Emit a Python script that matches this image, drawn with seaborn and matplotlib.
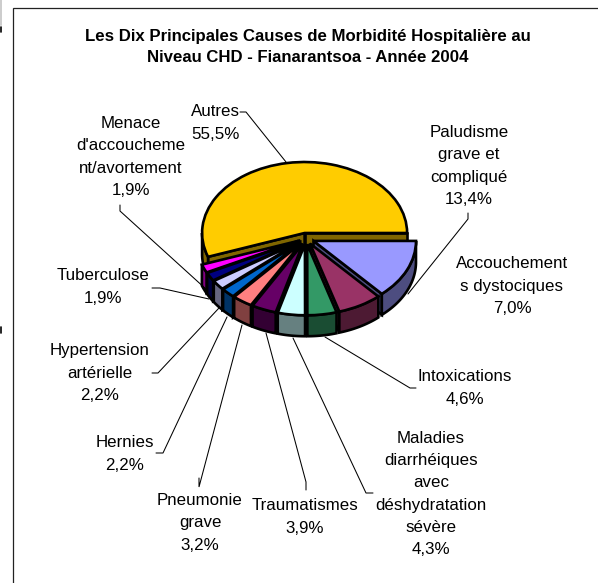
import numpy as np
import matplotlib
matplotlib.use("Agg")
import matplotlib.pyplot as plt
import seaborn as sns

sns.set_theme(style="white")
plt.rcParams['font.family'] = ['Liberation Sans', 'DejaVu Sans']

title = "Les Dix Principales Causes de Morbidité Hospitalière au\nNiveau CHD - Fianarantsoa - Année 2004"
categories = ["Autres", "Menace\nd'accoucheme\nnt/avortement", "Tuberculose",
              "Hypertension\nartérielle", "Hernies", "Pneumonie\ngrave", "Traumatismes",
              "Maladies\ndiarrhéiques\navec\ndéshydratation\nsévère", "Intoxications",
              "Accouchement\ns dystociques", "Paludisme\ngrave et\ncompliqué"]
values = [55.5, 1.9, 1.9, 2.2, 2.2, 3.2, 3.9, 4.3, 4.6, 7.0, 13.4]
value_labels = ["55,5%", "1,9%", "1,9%", "2,2%", "2,2%", "3,2%", "3,9%", "4,3%", "4,6%", "7,0%", "13,4%"]
colors = ["#FFCC00", "#FF00FF", "#000080", "#CCCCFF", "#0066CC", "#FF8080",
          "#660066", "#CCFFFF", "#339966", "#993366", "#9999FF"]

W, H = 598, 583
CX, CY, RX, RY = 306.0, 238.6, 102.5, 71.0   # pie centre / radii in pixels
DEPTH = 21.0 / RY
EXPLODE = 0.08
LW = 1.9

# positions of the labels (centre) in pixels
label_xy = [(215, 123), (131, 157), (103, 287), (100, 373), (125, 454), (200, 523),
            (305, 517), (431, 494), (465, 388), (512, 286), (469, 166)]
leaders = [[(240, 112), (246, 112), (286, 162)],
           [(120, 205), (120, 211), (207, 290)],
           [(152, 288), (160, 288), (209, 299)],
           [(152, 373), (158, 373), (219, 308)],
           [(156, 453), (163, 453), (227, 317)],
           [(199, 478), (199, 487), (242, 325)],
           [(306, 490), (306, 482), (266, 333)],
           [(373, 493), (366, 493), (293, 338)],
           [(416, 388), (410, 388), (325, 337)],
           [],
           [(468, 213), (468, 219), (408, 294)]]
# painter's order: back slice, right side to the front, then left side to the front
draw_order = [0, 10, 9, 8, 1, 2, 3, 4, 5, 6, 7]

fig = plt.figure(figsize=(W / 100, H / 100), dpi=100)
ax = fig.add_axes([0, 0, 1, 1])
palette = sns.color_palette(colors)
wedges, _ = ax.pie(values, colors=palette, startangle=0, counterclock=True,
                   explode=[EXPLODE] * len(values),
                   wedgeprops=dict(edgecolor="black", linewidth=LW))
ax.set_aspect("auto")
ax.set_xlim((0 - CX) / RX, (W - CX) / RX)
ax.set_ylim((CY - H) / RY, CY / RY)
ax.axis("off")

fracs = np.array(values) / np.sum(values)
edges = np.concatenate([[0], np.cumsum(fracs)]) * 360
for rank, i in enumerate(draw_order):
    t1, t2 = np.radians(edges[i]), np.radians(edges[i + 1])
    mid = (t1 + t2) / 2
    ox, oy = EXPLODE * np.cos(mid), EXPLODE * np.sin(mid)
    dark = tuple(0.5 * c for c in palette[i])
    z = 2 + 3 * rank
    # radial walls, only those that face the viewer
    for t, visible in ((t1, np.cos(t1) > 0), (t2, np.cos(t2) < 0)):
        if not visible:
            continue
        xs = ox + np.array([0, np.cos(t), np.cos(t), 0])
        ys = oy + np.array([0, np.sin(t), np.sin(t) - DEPTH, -DEPTH])
        ax.fill(xs, ys, facecolor=dark, edgecolor="black", linewidth=LW, zorder=z)
    # outer band, front part only
    if t2 > np.pi:
        th = np.linspace(max(t1, np.pi), t2, 80)
        xs = ox + np.concatenate([np.cos(th), np.cos(th[::-1])])
        ys = oy + np.concatenate([np.sin(th), np.sin(th[::-1]) - DEPTH])
        ax.fill(xs, ys, facecolor=dark, edgecolor="black", linewidth=LW, zorder=z + 1)
    wedges[i].set_zorder(z + 2)

# overlay in pixels
ov = fig.add_axes([0, 0, 1, 1], zorder=5)
ov.patch.set_alpha(0)
ov.set_xlim(0, W)
ov.set_ylim(H, 0)
ov.axis("off")

ov.plot([12.5, 12.5, W], [H, 7.5, 7.5], color="#222222", lw=0.9, solid_joinstyle="miter")
ov.plot([0.5, 0.5], [0, 25], color="#cccccc", lw=1.4)
ov.plot([0.5, 0.5], [27, 32], color="black", lw=1.2)
ov.plot([0.5, 0.5], [327, 333], color="black", lw=1.2)

ov.text(308, 46.5, title, ha="center", va="center", fontsize=12.05, fontweight="bold",
        color="black", linespacing=1.5)

for name, val, (x, y) in zip(categories, value_labels, label_xy):
    ov.text(x, y, f"{name}\n{val}", ha="center", va="center", fontsize=12.2,
            color="black", linespacing=1.6)
for pts in leaders:
    if pts:
        ov.plot(*zip(*pts), color="black", lw=0.75, solid_joinstyle="miter")

fig.savefig("out.png", dpi=100, facecolor="white")
